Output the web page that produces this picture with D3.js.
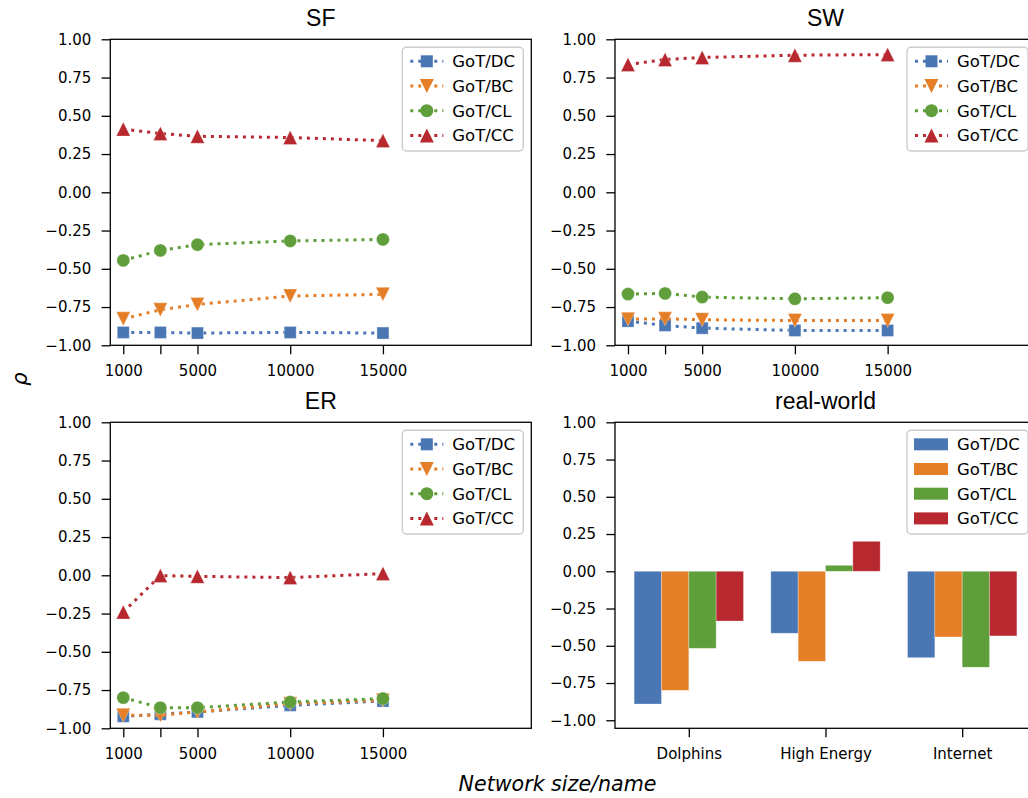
<!DOCTYPE html>
<html><head><meta charset="utf-8">
<script src="https://cdn.jsdelivr.net/npm/d3@7"></script>
<style>body{margin:0;background:#fff}svg{display:block}</style>
</head><body>
<svg id="c" width="1028" height="798"></svg>
<script>
// ---------- data ----------
const sizes = [1000, 3000, 5000, 10000, 15000];
const sizeTickLabels = ["1000", "", "5000", "10000", "15000"];
const seriesNames = ["GoT/DC", "GoT/BC", "GoT/CL", "GoT/CC"];
const seriesColors = ["#4a77b4", "#e47f27", "#5f9e3a", "#b7292f"];
const seriesMarkers = ["square", "down", "circle", "up"];

const sfDC = [-0.916, -0.916, -0.920, -0.916, -0.920];
const sfBC = [-0.827, -0.768, -0.733, -0.678, -0.667];
const sfCL = [-0.445, -0.380, -0.342, -0.318, -0.308];
const sfCC = [0.413, 0.384, 0.366, 0.358, 0.338];

const swDC = [-0.842, -0.870, -0.888, -0.903, -0.903];
const swBC = [-0.829, -0.827, -0.833, -0.838, -0.838];
const swCL = [-0.665, -0.661, -0.685, -0.696, -0.689];
const swCC = [0.835, 0.868, 0.881, 0.896, 0.900];

const erDC = [-0.922, -0.908, -0.893, -0.850, -0.822];
const erBC = [-0.915, -0.915, -0.893, -0.839, -0.817];
const erCL = [-0.800, -0.865, -0.865, -0.828, -0.806];
const erCC = [-0.240, -0.002, -0.007, -0.015, 0.011];

const realNets = ["Dolphins", "High Energy", "Internet"];
const realDC = [-0.891, -0.416, -0.580];
const realBC = [-0.799, -0.604, -0.441];
const realCL = [-0.517, 0.040, -0.644];
const realCC = [-0.334, 0.201, -0.434];

const yTicks = [-1, -0.75, -0.5, -0.25, 0, 0.25, 0.5, 0.75, 1];

const panelTitles = ["SF", "SW", "ER", "real-world"];

// ---------- layout ----------
const svg = d3.select("#c");
const PW = 421, PH = 306;
const panels = [
  {x: 110.3, y: 39.3}, {x: 615, y: 39.3},
  {x: 110.3, y: 422.3}, {x: 615, y: 422.3}
];
const tickFont = "'DejaVu Sans', sans-serif";
const fmt = d3.format(".2f");

function styleAxis(g) {
  g.attr("font-size", 15).attr("font-family", tickFont);
  g.select(".domain").remove();
  g.selectAll(".tick line").attr("stroke", "#000").attr("stroke-width", 1.3);
  g.selectAll(".tick text").attr("fill", "#000");
}

function markerPath(type) {
  if (type === "square") return "M-6,-6H6V6H-6Z";
  if (type === "circle") return d3.symbol(d3.symbolCircle, Math.PI * 6.5 * 6.5)();
  if (type === "up") return "M0,-7L7,7L-7,7Z";
  return "M0,7L7,-7L-7,-7Z";
}

function frame(g) {
  g.append("rect").attr("x", 0).attr("y", 0).attr("width", PW).attr("height", PH)
    .attr("fill", "none").attr("stroke", "#000").attr("stroke-width", 1.3);
}

function title(p, t) {
  svg.append("text").attr("x", p.x + PW / 2).attr("y", p.y - 13)
    .attr("text-anchor", "middle").attr("font-family", "'Liberation Sans', Arial, sans-serif")
    .attr("font-size", 23).attr("fill", "#000").text(t);
}

function legendBox(g, kind) {
  const lw = 121, lh = 103.7;
  const lx = PW - 8 - lw, ly = 8;
  const L = g.append("g").attr("transform", `translate(${lx},${ly})`);
  L.append("rect").attr("width", lw).attr("height", lh).attr("rx", 4)
    .attr("fill", "#fff").attr("fill-opacity", 0.8)
    .attr("stroke", "#cccccc").attr("stroke-width", 1.4);
  seriesNames.forEach((n, i) => {
    const ry = 14 + i * 24.7;
    if (kind === "line") {
      L.append("line").attr("x1", 8).attr("x2", 41).attr("y1", ry).attr("y2", ry)
        .attr("stroke", seriesColors[i]).attr("stroke-width", 3).attr("stroke-dasharray", "3,5");
      L.append("path").attr("d", markerPath(seriesMarkers[i]))
        .attr("transform", `translate(24.5,${ry})`).attr("fill", seriesColors[i]);
    } else {
      L.append("rect").attr("x", 7).attr("y", ry - 6).attr("width", 34).attr("height", 12)
        .attr("fill", seriesColors[i]);
    }
    L.append("text").attr("x", 50).attr("y", ry).attr("dy", "0.36em")
      .attr("font-family", tickFont).attr("font-size", 16.5).attr("fill", "#000").text(n);
  });
}

function linePanel(p, t, series) {
  const g = svg.append("g").attr("transform", `translate(${p.x},${p.y})`);
  const x = d3.scaleLinear().domain([300, 23000]).range([0, PW]);
  const y = d3.scaleLinear().domain([-1, 1]).range([PH, 0]);
  g.append("g").call(d3.axisLeft(y).tickValues(yTicks).tickFormat(fmt).tickSize(8.7).tickPadding(10.3))
    .call(styleAxis);
  g.append("g").attr("transform", `translate(0,${PH})`)
    .call(d3.axisBottom(x).tickValues(sizes).tickFormat((d, i) => sizeTickLabels[i]).tickSize(9).tickPadding(11))
    .call(styleAxis);
  const line = d3.line().x((d, i) => x(sizes[i])).y(d => y(d));
  series.forEach((s, k) => {
    g.append("path").datum(s).attr("d", line).attr("fill", "none")
      .attr("stroke", seriesColors[k]).attr("stroke-width", 3).attr("stroke-dasharray", "3,5");
    g.selectAll(null).data(s).enter().append("path")
      .attr("d", markerPath(seriesMarkers[k]))
      .attr("transform", (d, i) => `translate(${x(sizes[i])},${y(d)})`)
      .attr("fill", seriesColors[k]).attr("stroke", "#fff").attr("stroke-opacity", 0.5).attr("stroke-width", 0.6);
  });
  frame(g);
  legendBox(g, "line");
  title(p, t);
}

function barPanel(p, t, series) {
  const g = svg.append("g").attr("transform", `translate(${p.x},${p.y})`);
  const x = d3.scaleLinear().domain([-0.54, 2.54]).range([0, PW]);
  const y = d3.scaleLinear().domain([-1.054, 1]).range([PH, 0]);
  g.append("g").call(d3.axisLeft(y).tickValues(yTicks).tickFormat(fmt).tickSize(8.7).tickPadding(10.3))
    .call(styleAxis);
  g.append("g").attr("transform", `translate(0,${PH})`)
    .call(d3.axisBottom(x).tickValues([0, 1, 2]).tickFormat((d, i) => realNets[i]).tickSize(9).tickPadding(11))
    .call(styleAxis);
  const bw = 0.2;
  series.forEach((s, k) => {
    g.selectAll(null).data(s).enter().append("rect")
      .attr("x", (d, i) => x(i - 0.4 + k * bw))
      .attr("width", x(bw) - x(0))
      .attr("y", d => y(Math.max(0, d)))
      .attr("height", d => Math.abs(y(d) - y(0)))
      .attr("fill", seriesColors[k]).attr("stroke", "#fff").attr("stroke-opacity", 0.35).attr("stroke-width", 0.8);
  });
  frame(g);
  legendBox(g, "bar");
  title(p, t);
}

linePanel(panels[0], panelTitles[0], [sfDC, sfBC, sfCL, sfCC]);
linePanel(panels[1], panelTitles[1], [swDC, swBC, swCL, swCC]);
linePanel(panels[2], panelTitles[2], [erDC, erBC, erCL, erCC]);
barPanel(panels[3], panelTitles[3], [realDC, realBC, realCL, realCC]);

// figure labels
svg.append("text").attr("x", 557.5).attr("y", 791)
  .attr("text-anchor", "middle").attr("font-family", tickFont).attr("font-style", "italic")
  .attr("font-size", 20.6).attr("fill", "#000").text("Network size/name");
svg.append("text").attr("transform", "translate(27,379) rotate(-90)")
  .attr("text-anchor", "middle").attr("font-family", tickFont).attr("font-style", "italic")
  .attr("font-size", 21).attr("fill", "#000").text("ρ");
</script>
</body></html>
